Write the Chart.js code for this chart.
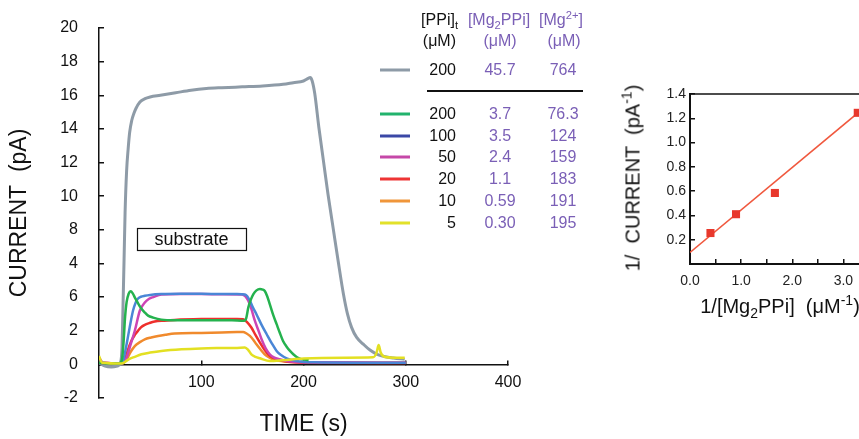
<!DOCTYPE html>
<html>
<head>
<meta charset="utf-8">
<script src="https://cdn.jsdelivr.net/npm/chart.js@4"></script>
<style>
  html, body { margin: 0; padding: 0; background: #fff; overflow: hidden; }
  body { width: 859px; height: 439px; position: relative; font-family: "Liberation Sans", Arial, sans-serif; color: #111; }
  #left { position: absolute; left: 0; top: 0; }
  #right { position: absolute; left: 600px; top: 0; }
  .cell { position: absolute; font-size: 16px; line-height: 18px; white-space: nowrap; transform: translateY(-50%); }
  .purple { color: #7a5fb6; }
  .swatch { position: absolute; left: 380px; width: 30px; height: 3px; transform: translateY(-50%); }
  .rule { position: absolute; left: 427px; width: 156px; top: 90px; height: 2px; background: #111; }
  .title { position: absolute; font-size: 20px; white-space: nowrap; transform: translate(-50%, -50%); }
  sub, sup { font-size: 70%; line-height: 0; }
</style>
</head>
<body>
<canvas id="left" width="540" height="439"></canvas>
<canvas id="right" width="300" height="439"></canvas>
<div id="legend"></div>
<div class="title" style="left:633px; top:178px; transform: translate(-50%, -50%) rotate(-90deg);">1/&nbsp; CURRENT &nbsp;(pA<sup>-1</sup>)</div>
<div class="title" style="left:780px; top:306px;">1/[Mg<sub>2</sub>PPi]&nbsp; (&mu;M<sup>-1</sup>)</div>
<script>
// Current traces (pA) against time (s).
const grayT = [0, 6, 12, 18, 21, 22.5, 23.5, 24.5, 25.5, 27, 28.5, 30, 32, 34, 36, 40, 45, 50, 60, 75, 90, 105, 120, 140, 160, 180, 190, 200, 204.5, 206.5, 208.5, 211, 215, 219.5, 224, 229, 234, 239, 243, 247, 252, 258.5, 265, 272, 280, 288, 299];
const grayI = [0.1, -0.1, -0.15, -0.1, 0.1, 1.0, 3.5, 6.2, 9.0, 11.5, 12.8, 13.8, 14.5, 14.9, 15.2, 15.6, 15.8, 15.9, 16.0, 16.15, 16.3, 16.4, 16.45, 16.5, 16.55, 16.65, 16.75, 16.85, 17.0, 17.05, 16.85, 16.1, 14.1, 12.1, 10.1, 8.1, 6.1, 4.2, 3.0, 2.2, 1.6, 1.2, 0.85, 0.6, 0.45, 0.38, 0.3];

const greenT = [0, 10, 20, 22.5, 24, 25.5, 27, 29, 31, 33, 35.5, 38, 41, 44.8, 48, 53, 61, 74, 90, 110, 130, 142, 144, 146, 148.5, 151, 154, 157.4, 160, 162.3, 164.5, 167, 170, 173.7, 177, 180, 183.5, 186.8, 190, 193.3, 197, 205];
const greenI = [0.1, 0.05, 0.05, 0.3, 1.3, 2.8, 3.7, 4.2, 4.35, 4.22, 3.92, 3.65, 3.35, 3.08, 2.9, 2.78, 2.66, 2.62, 2.62, 2.63, 2.62, 2.6, 2.75, 3.38, 3.85, 4.18, 4.4, 4.48, 4.45, 4.35, 4.05, 3.58, 3.0, 2.39, 1.85, 1.39, 1.05, 0.8, 0.6, 0.44, 0.33, 0.25];

const blueT = [0, 10, 22, 24, 27, 30, 33.3, 36, 38, 41, 44.8, 50, 61, 80, 100, 120, 135, 142.7, 145, 147.6, 150.5, 154, 159, 164, 169, 173.7, 178, 183.5, 193, 210, 250, 300];
const blueI = [0.1, 0.05, 0.05, 0.3, 1.2, 2.2, 3.2, 3.7, 3.9, 4.02, 4.08, 4.13, 4.18, 4.2, 4.2, 4.18, 4.18, 4.15, 4.05, 3.78, 3.4, 2.98, 2.35, 1.79, 1.25, 0.8, 0.55, 0.36, 0.2, 0.12, 0.1, 0.1];

const magT = [0, 4, 22, 25, 27, 31, 35, 40, 44.8, 49, 53, 61, 80, 100, 120, 140, 143, 146, 149, 152.5, 156, 159, 163, 167, 171, 176.6, 185, 200, 300];
const magI = [0.4, 0.1, 0.05, 0.15, 0.4, 1.2, 2.0, 3.2, 3.68, 3.9, 4.0, 4.15, 4.18, 4.18, 4.17, 4.16, 4.05, 3.78, 3.3, 2.58, 2.0, 1.49, 0.95, 0.6, 0.42, 0.3, 0.18, 0.12, 0.1];

const redT = [0, 22, 25.5, 28, 31.7, 35, 38.2, 41, 44.8, 49, 54.5, 64, 74, 100, 120, 135, 141, 145, 149, 153, 157.4, 161.5, 165.5, 169, 173.7, 185, 200, 300];
const redI = [0.1, 0.05, 0.3, 0.8, 1.4, 1.75, 2.0, 2.2, 2.35, 2.45, 2.55, 2.6, 2.64, 2.69, 2.7, 2.7, 2.68, 2.5, 2.19, 1.75, 1.29, 0.9, 0.6, 0.42, 0.3, 0.15, 0.1, 0.08];

const orangeT = [0, 22, 27, 31, 35, 40, 44.8, 51, 57.8, 65, 74, 100, 120, 135, 141, 144, 147.6, 151, 154, 158, 162, 166, 170, 180, 200, 300];
const orangeI = [0.1, 0.05, 0.3, 0.75, 1.09, 1.32, 1.49, 1.6, 1.69, 1.76, 1.83, 1.87, 1.9, 1.92, 1.93, 1.85, 1.69, 1.45, 1.19, 0.88, 0.6, 0.42, 0.3, 0.18, 0.12, 0.1];

const yellowT = [0, 3, 22, 29, 35, 41.5, 50, 61, 80.7, 100, 120, 135, 142.7, 146, 149, 153, 157.5, 167, 180, 200, 240, 268, 271.5, 273.5, 275.5, 279, 288, 299];
const yellowI = [0.5, 0.1, 0.05, 0.3, 0.45, 0.6, 0.7, 0.8, 0.9, 0.95, 0.97, 0.98, 1.0, 0.85, 0.6, 0.45, 0.36, 0.2, 0.25, 0.35, 0.4, 0.42, 0.7, 1.15, 0.7, 0.45, 0.4, 0.4];

// The printed y labels (the original figure swaps 4 and 6).
const yTickValues = [-2, 0, 2, 4, 6, 8, 10, 12, 14, 16, 18, 20];
const yTickLabels = ["-2", "0", "2", "6", "4", "8", "10", "12", "14", "16", "18", "20"];

// Substrate application window (s) and box height (pA).
const substrateSpan = [37, 144];
const substrateBand = [6.8, 8.1];

// Legend table.
const ppiTotal = ["200", "200", "100", "50", "20", "10", "5"];
const mg2ppi = ["45.7", "3.7", "3.5", "2.4", "1.1", "0.59", "0.30"];
const mgFree = ["764", "76.3", "124", "159", "183", "191", "195"];

// Double-reciprocal plot.
const invMg2ppi = [0.40, 0.90, 1.66, 3.28];
const invCurrent = [0.255, 0.41, 0.585, 1.245];
const fitX = [0, 3.5];
const fitY = [0.095, 1.32];

const FONT = '"Liberation Sans", Arial, sans-serif';
const pts = (xs, ys) => xs.map((x, i) => ({ x, y: ys[i] }));

// first entry is drawn on top
const traces = [
  { t: yellowT, v: yellowI, color: "#e3e022", legend: "#e2e12a" },
  { t: greenT, v: greenI, color: "#25b24e", legend: "#22b36d" },
  { t: blueT, v: blueI, color: "#4a86d6", legend: "#3b48a6" },
  { t: magT, v: magI, color: "#cc45b4", legend: "#c548a8" },
  { t: redT, v: redI, color: "#ee2f2c", legend: "#ee3434" },
  { t: orangeT, v: orangeI, color: "#f08a2c", legend: "#f0963a" },
  { t: grayT, v: grayI, color: "#8e9ba7", legend: "#8e9ba7" },
];

// y axis: fixed width, and no extra room above/below for the tick padding
const fixY = (w) => (s) => { s.width = w; s.paddingTop = 0; s.paddingBottom = 0; };

const substrateBox = {
  id: "substrateBox",
  afterDatasetsDraw(chart) {
    const { ctx, scales: { x, y } } = chart;
    const x0 = x.getPixelForValue(substrateSpan[0]), x1 = x.getPixelForValue(substrateSpan[1]);
    const y0 = y.getPixelForValue(substrateBand[1]), y1 = y.getPixelForValue(substrateBand[0]);
    ctx.save();
    ctx.fillStyle = "#fff";
    ctx.fillRect(x0, y0, x1 - x0, y1 - y0);
    ctx.strokeStyle = "#111";
    ctx.lineWidth = 1.2;
    ctx.strokeRect(Math.round(x0) + 0.5, Math.round(y0) + 0.5, Math.round(x1 - x0), Math.round(y1 - y0));
    ctx.fillStyle = "#111";
    ctx.font = `18px ${FONT}`;
    ctx.textAlign = "center";
    ctx.textBaseline = "middle";
    ctx.fillText("substrate", (x0 + x1) / 2, (y0 + y1) / 2 + 1);
    ctx.restore();
  },
};

new Chart(document.getElementById("left"), {
  type: "line",
  data: {
    datasets: traces.map((s) => ({
      data: pts(s.t, s.v),
      borderColor: s.color,
      borderWidth: s.t === grayT ? 3 : 2.5,
      pointRadius: 0,
      cubicInterpolationMode: "monotone",
      fill: false,
    })),
  },
  options: {
    responsive: false,
    animation: false,
    layout: { padding: { left: 0, top: 28, right: 32, bottom: 41 } },
    plugins: { legend: { display: false }, tooltip: { enabled: false } },
    scales: {
      x: {
        type: "linear", position: { y: 0 }, min: 0, max: 400,
        ticks: { stepSize: 100, autoSkip: false, maxRotation: 0, color: "#111", padding: 14,
          font: { family: FONT, size: 16 }, callback: (v) => (v === 0 ? "" : v) },
        grid: { drawOnChartArea: false, tickLength: -5, color: "#111", lineWidth: 1.5 },
        border: { color: "#111", width: 1.5 },
        title: { display: true, text: "TIME (s)", color: "#111", padding: 0, font: { family: FONT, size: 23 } },
        afterFit: (s) => { s.height = 74; },
      },
      y: {
        min: -2, max: 20,
        ticks: { stepSize: 2, autoSkip: false, color: "#111", padding: 26,
          font: { family: FONT, size: 16 },
          callback: (v) => yTickLabels[yTickValues.indexOf(v)] ?? "" },
        grid: { drawOnChartArea: false, tickLength: -5, color: "#111", lineWidth: 1.5 },
        border: { color: "#111", width: 1.5 },
        title: { display: true, text: "CURRENT  (pA)", color: "#111", padding: { top: 6 }, font: { family: FONT, size: 23 } },
        afterFit: fixY(99),
      },
    },
  },
  plugins: [substrateBox],
});

const frameTop = {
  id: "frameTop",
  afterDraw(chart) {
    const { ctx, chartArea: a } = chart;
    ctx.save();
    ctx.strokeStyle = "#111";
    ctx.lineWidth = 1.5;
    ctx.beginPath();
    ctx.moveTo(a.left, a.top);
    ctx.lineTo(a.right + 20, a.top);
    ctx.stroke();
    ctx.restore();
  },
};

new Chart(document.getElementById("right"), {
  type: "scatter",
  data: {
    datasets: [
      { data: pts(invMg2ppi, invCurrent), pointStyle: "rect", pointRadius: 5.7,
        backgroundColor: "#e8382c", borderWidth: 0 },
      { data: pts(fitX, fitY), showLine: true, pointRadius: 0,
        borderColor: "#f0583e", borderWidth: 1.6 },
    ],
  },
  options: {
    responsive: false,
    animation: false,
    layout: { padding: { left: 0, top: 94, right: 31, bottom: 135 } },
    plugins: { legend: { display: false }, tooltip: { enabled: false } },
    scales: {
      x: {
        type: "linear", position: "bottom", min: 0, max: 3.5,
        ticks: { stepSize: 0.5, autoSkip: false, maxRotation: 0, color: "#222", padding: 14,
          font: { family: FONT, size: 14 },
          callback: (v) => (Number.isInteger(v) ? v.toFixed(1) : "") },
        grid: { drawOnChartArea: false, tickLength: -5, color: "#111", lineWidth: 1.5 },
        border: { color: "#111", width: 2 },
        afterFit: (s) => { s.height = 40; },
      },
      y: {
        min: 0, max: 1.4,
        ticks: { stepSize: 0.2, autoSkip: false, color: "#222", padding: 9,
          font: { family: FONT, size: 14 },
          callback: (v) => (v < 0.1 ? "" : v.toFixed(1)) },
        grid: { drawOnChartArea: false, tickLength: -5, color: "#111", lineWidth: 1.5 },
        border: { color: "#111", width: 2 },
        afterFit: fixY(90),
      },
    },
  },
  plugins: [frameTop],
});

// Legend table, drawn as text next to the traces.
function cell(html, y, x, align, cls) {
  const d = document.createElement("div");
  d.className = "cell " + (cls || "");
  d.innerHTML = html;
  d.style.top = y + "px";
  if (align === "right") d.style.right = (859 - x) + "px";
  else { d.style.left = x + "px"; d.style.transform = "translate(-50%, -50%)"; }
  document.getElementById("legend").appendChild(d);
}

cell("[PPi]<sub>t</sub>", 20, 458, "right");
cell("[Mg<sub>2</sub>PPi]", 20, 499, "center", "purple");
cell("[Mg<sup>2+</sup>]", 20, 561, "center", "purple");
cell("(&mu;M)", 41, 456, "right");
cell("(&mu;M)", 41, 500, "center", "purple");
cell("(&mu;M)", 41, 564, "center", "purple");

const rowY = [70, 114, 135.5, 157, 179, 201, 223];
const legendOrder = [6, 1, 2, 3, 4, 5, 0]; // gray first, then green..yellow
rowY.forEach((y, i) => {
  const sw = document.createElement("div");
  sw.className = "swatch";
  sw.style.top = y + "px";
  sw.style.background = traces[legendOrder[i]].legend;
  document.getElementById("legend").appendChild(sw);
  cell(ppiTotal[i], y, 456, "right");
  cell(mg2ppi[i], y, 500, "center", "purple");
  cell(mgFree[i], y, 563, "center", "purple");
});
const rule = document.createElement("div");
rule.className = "rule";
document.getElementById("legend").appendChild(rule);
</script>
</body>
</html>
